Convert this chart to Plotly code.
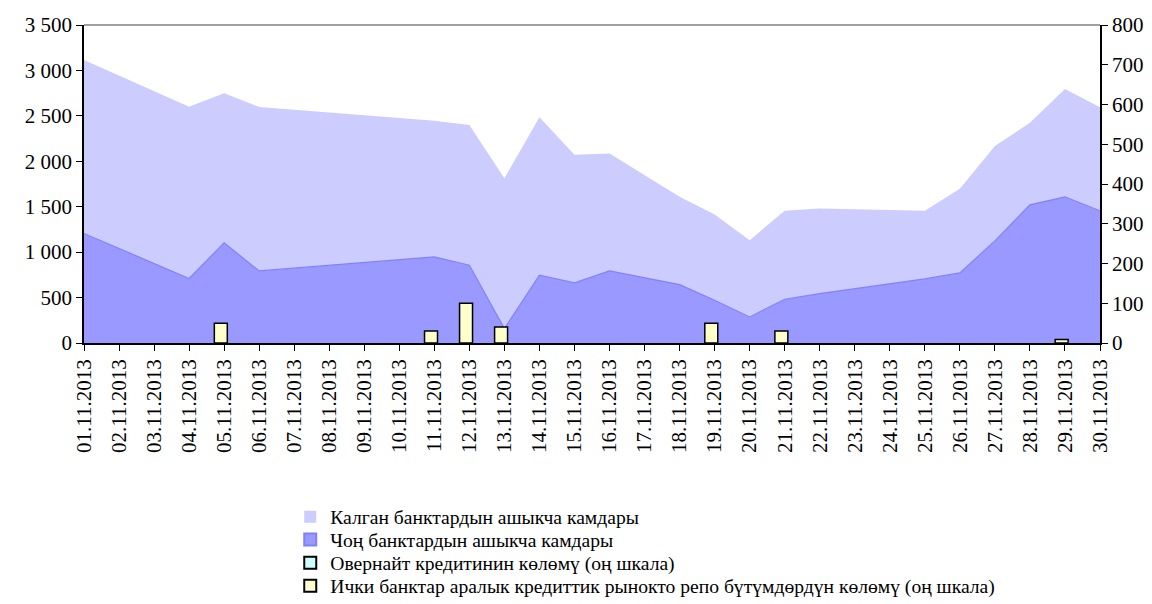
import plotly.graph_objects as go

# Tick labels (every calendar day)
tick_dates = [f"2013-11-{d:02d}" for d in range(1, 31)]
tick_labels = [f"{d:02d}.11.2013" for d in range(1, 31)]

# Days with reserve data
reserve_dates = ["2013-11-01", "2013-11-04", "2013-11-05", "2013-11-06", "2013-11-11",
                 "2013-11-12", "2013-11-13", "2013-11-14", "2013-11-15", "2013-11-16",
                 "2013-11-18", "2013-11-19", "2013-11-20", "2013-11-21", "2013-11-22",
                 "2013-11-25", "2013-11-26", "2013-11-27", "2013-11-28", "2013-11-29",
                 "2013-11-30"]
big_banks = [1206, 710, 1102, 793, 948, 856, 159, 746, 661, 793,
             643, 470, 287, 482, 544, 705, 771, 1124, 1521, 1609, 1455]
other_banks = [1909, 1891, 1646, 1804, 1498, 1543, 1653, 1738, 1411, 1294,
               966, 945, 845, 973, 937, 750, 926, 1044, 903, 1187, 1139]

# Interbank repo volume (right scale)
repo_dates = ["2013-11-05", "2013-11-11", "2013-11-12", "2013-11-13",
              "2013-11-19", "2013-11-21", "2013-11-29"]
repo_values = [50, 30, 100, 40, 50, 30, 9]
overnight_dates = ["2013-11-05"]
overnight_values = [None]

names = ["Калган банктардын ашыкча камдары",
         "Чоң банктардын ашыкча камдары",
         "Овернайт кредитинин көлөмү (оң шкала)",
         "Ички банктар аралык кредиттик рынокто репо бүтүмдөрдүн көлөмү (оң шкала)"]

DAY = 86400000
FONT = "Liberation Serif"
tick_font = dict(family=FONT, size=21, color="black")
legend_font = dict(family=FONT, size=19.6, color="black")

fig = go.Figure()
fig.add_trace(go.Scatter(
    x=reserve_dates, y=big_banks, name=names[1], showlegend=False,
    stackgroup="res", mode="lines", line=dict(color="#8080FF", width=1.2),
    fillcolor="#9999FF"))
fig.add_trace(go.Scatter(
    x=reserve_dates, y=other_banks, name=names[0], showlegend=False,
    stackgroup="res", mode="lines", line=dict(color="#CCCCFF", width=0),
    fillcolor="#CCCCFF"))
# square legend swatches for the two areas
fig.add_trace(go.Bar(
    x=[reserve_dates[0]], y=[None], name=names[0], yaxis="y2", legend="legend",
    marker=dict(color="#CCCCFF", line=dict(color="#CCCCFF", width=0))))
fig.add_trace(go.Bar(
    x=[reserve_dates[0]], y=[None], name=names[1], yaxis="y2", legend="legend2",
    marker=dict(color="#9999FF", line=dict(color="#8080FF", width=1))))
fig.add_trace(go.Bar(
    x=overnight_dates, y=overnight_values, name=names[2], legend="legend3",
    yaxis="y2", marker=dict(color="#CCFFFF", line=dict(color="black", width=1.5)),
    width=0.37 * DAY, offset=-0.28 * DAY))
fig.add_trace(go.Bar(
    x=repo_dates, y=repo_values, name=names[3], legend="legend4",
    yaxis="y2", marker=dict(color="#FFFFCC", line=dict(color="black", width=1.5)),
    width=0.37 * DAY, offset=-0.28 * DAY))

def leg(y):
    return dict(x=0.203, y=y, xanchor="left", yanchor="middle", font=legend_font,
                itemwidth=30, itemsizing="constant", bgcolor="rgba(0,0,0,0)",
                borderwidth=0)

fig.update_layout(
    width=1144, height=596,
    margin=dict(l=76, r=52, t=17, b=261, autoexpand=False),
    paper_bgcolor="white", plot_bgcolor="white",
    font=dict(family=FONT, size=21, color="black"),
    separators=", ",
    showlegend=True,
    barmode="overlay",
    legend=leg(-0.547),
    legend2=leg(-0.619),
    legend3=leg(-0.692),
    legend4=leg(-0.764),
    xaxis=dict(type="date", range=["2013-11-01", "2013-11-30"], automargin=False,
               tickmode="array", tickvals=tick_dates, ticktext=tick_labels,
               tickangle=-90, ticks="outside", ticklen=6, tickcolor="black",
               tickfont=tick_font,
               showline=True, linecolor="black", linewidth=1.5,
               showgrid=False, zeroline=False),
    yaxis=dict(range=[0, 3500], dtick=500, tickformat=",d", automargin=False,
               ticks="outside", ticklen=6, tickcolor="black", tickfont=tick_font,
               showline=True, linecolor="black", linewidth=1.5,
               showgrid=False, zeroline=False),
    yaxis2=dict(range=[0, 800], dtick=100, overlaying="y", side="right", automargin=False,
                ticks="outside", ticklen=6, tickcolor="black", tickfont=tick_font,
                showline=True, linecolor="black", linewidth=1.5,
                showgrid=False, zeroline=False),
    shapes=[dict(type="line", xref="paper", yref="paper", x0=0, x1=1, y0=1, y1=1,
                 line=dict(color="#808080", width=1.5))],
)

fig.write_html("out.html")
